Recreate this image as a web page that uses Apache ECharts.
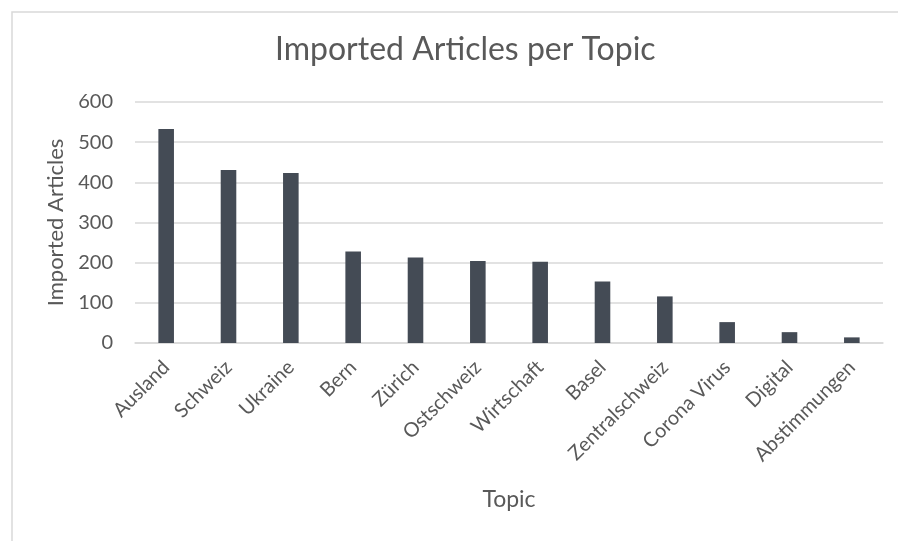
<!DOCTYPE html>
<html>
<head>
<meta charset="utf-8">
<script src="https://cdn.jsdelivr.net/npm/echarts@6/dist/echarts.min.js"></script>
<style>
  html, body { margin: 0; padding: 0; background: #ffffff; }
  #chart { width: 898px; height: 541px; }
</style>
</head>
<body>
<div id="chart"></div>
<script>
// Imported articles per topic
const topics = ['Ausland', 'Schweiz', 'Ukraine', 'Bern', 'Zürich', 'Ostschweiz', 'Wirtschaft', 'Basel', 'Zentralschweiz', 'Corona Virus', 'Digital', 'Abstimmungen'];
const articleCounts = [533, 431, 423, 228, 213, 204, 202, 153, 116, 52, 27, 14];
const yTicks = [0, 100, 200, 300, 400, 500, 600];

const FONT = 'Lato, "Open Sans", sans-serif';
const TEXT = '#595959';
const LINE = '#d9d9d9';

const chart = echarts.init(document.getElementById('chart'), null, { renderer: 'canvas' });
chart.setOption({
  animation: false,
  backgroundColor: '#ffffff',
  graphic: [{
    type: 'rect',
    left: 9.5, top: 9.5,
    shape: { x: 0, y: 0, width: 1000, height: 1000 },
    style: { fill: 'none', stroke: LINE, lineWidth: 1.5 },
    silent: true
  }],
  title: {
    text: 'Imported Articles per Topic',
    left: 270,
    top: 29,
    textStyle: { fontFamily: FONT, fontSize: 32, fontWeight: 'normal', color: TEXT }
  },
  grid: { left: 135, right: 15, top: 102, bottom: 198, containLabel: false },
  xAxis: {
    type: 'category',
    data: topics,
    name: 'Topic',
    nameLocation: 'middle',
    nameGap: 145,
    nameTextStyle: { fontFamily: FONT, fontSize: 23, color: TEXT },
    axisLine: { lineStyle: { color: LINE, width: 1.5 } },
    axisTick: { show: false },
    axisLabel: { rotate: 45, interval: 0, margin: 21, fontFamily: FONT, fontSize: 20, color: TEXT }
  },
  yAxis: {
    type: 'value',
    min: yTicks[0],
    max: yTicks[yTicks.length - 1],
    interval: yTicks[1] - yTicks[0],
    name: 'Imported Articles',
    nameLocation: 'middle',
    nameGap: 67,
    nameTextStyle: { fontFamily: FONT, fontSize: 22, color: TEXT },
    axisLine: { show: false },
    axisTick: { show: false },
    axisLabel: { margin: 22, fontFamily: FONT, fontSize: 20, color: TEXT },
    splitLine: { lineStyle: { color: LINE, width: 1.5 } }
  },
  series: [{
    type: 'bar',
    data: articleCounts,
    barWidth: '25%',
    itemStyle: { color: '#444b55' }
  }]
});
</script>
</body>
</html>
